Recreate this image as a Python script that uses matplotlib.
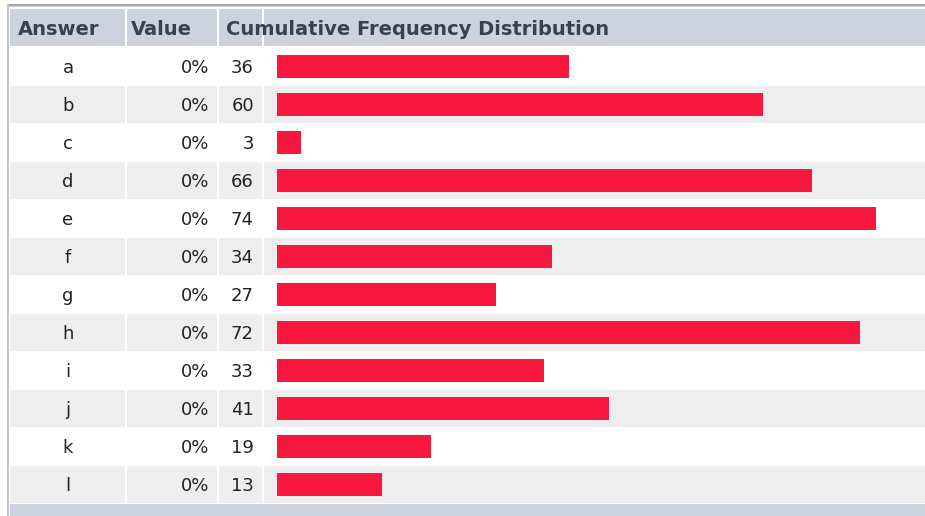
import matplotlib.pyplot as plt
from matplotlib.patches import Rectangle

answers = ["a", "b", "c", "d", "e", "f", "g", "h", "i", "j", "k", "l"]
percents = ["0%"] * 12
counts = [36, 60, 3, 66, 74, 34, 27, 72, 33, 41, 19, 13]
headers = ["Answer", "Value", "Cumulative Frequency Distribution"]

W, H = 925, 516
head_top, head_bot = 9, 46
row_top, row_h = 47, 38
n = len(answers)
table_bot = row_top + n * row_h

head_bg = "#cbd3de"
odd_bg = "#eeeeee"
bar_col = "#f8183f"

fig = plt.figure(figsize=(W / 100, H / 100), dpi=100)
ax = fig.add_axes([0, 0, 1, 1])
ax.set_xlim(0, W)
ax.set_ylim(H, 0)
ax.axis("off")

# outer frame
ax.add_patch(Rectangle((7, 4), W, H, facecolor="#ffffff", edgecolor="none"))
ax.add_patch(Rectangle((7, 4), W, 1.5, facecolor="#a8a8a8", edgecolor="none"))
ax.add_patch(Rectangle((7, 5.5), W, 1.5, facecolor="#d4d4d4", edgecolor="none"))
ax.add_patch(Rectangle((7, 4), 2, H, facecolor="#c4c4c4", edgecolor="none"))

# header and footer bands
ax.add_patch(Rectangle((10, head_top), W, head_bot - head_top, facecolor=head_bg, edgecolor="none"))
ax.add_patch(Rectangle((10, table_bot + 1), W, H - table_bot, facecolor=head_bg, edgecolor="none"))

# striped rows
for i in range(n):
    y0 = row_top + i * row_h
    if i % 2 == 1:
        ax.add_patch(Rectangle((10, y0 + 1), W, row_h - 1, facecolor=odd_bg, edgecolor="none"))

# white column separators
for x in [125, 217, 262]:
    ax.add_patch(Rectangle((x, head_top), 2, table_bot - head_top, facecolor="#ffffff", edgecolor="none"))

# header labels
hx = [18, 131, 226]
for x, t in zip(hx, headers):
    ax.text(x, (head_top + head_bot) / 2 + 2, t, ha="left", va="center",
            fontsize=14, fontweight="bold", color="#36424f", family="DejaVu Sans")

for i in range(n):
    yc = row_top + i * row_h + row_h / 2 + 2
    ax.text(68, yc, answers[i], ha="center", va="center", fontsize=13, color="#222222")
    ax.text(209, yc, percents[i], ha="right", va="center", fontsize=13, color="#222222")
    ax.text(254, yc, str(counts[i]), ha="right", va="center", fontsize=13, color="#222222")

# bars in their own axes, 0 at x=277px
bx0 = 277
bax = fig.add_axes([bx0 / W, (H - table_bot) / H, (W - bx0) / W, (table_bot - row_top) / H])
bax.patch.set_alpha(0)
bax.set_xlim(0, (W - bx0) / 8.1)
bax.set_ylim(n - 0.5, -0.5)
bax.barh(range(n), counts, height=23 / 38, color=bar_col, left=0)
bax.axis("off")

fig.savefig("out.png", dpi=100)
